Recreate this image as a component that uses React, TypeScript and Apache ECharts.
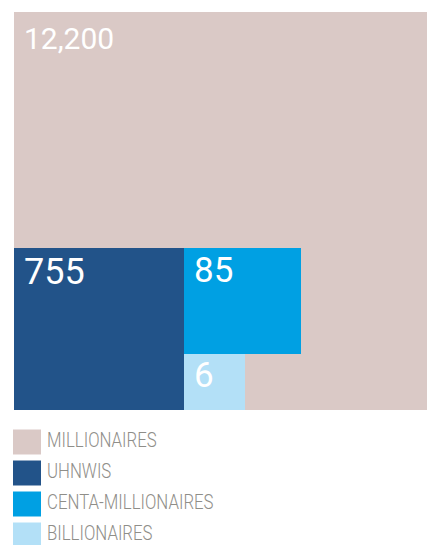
import React, { useEffect, useRef } from "react";
import * as echarts from "echarts";

// ---- data ----
const categories = ["MILLIONAIRES", "UHNWIS", "CENTA-MILLIONAIRES", "BILLIONAIRES"];
const values = [12200, 755, 85, 6];
// extents of each block in the chart's (hidden) value axes
const xStart = [0, 0, 170, 170];
const xEnd = [413, 170, 287, 231];
const yStart = [0, 0, 56, 0];
const yEnd = [398, 162, 162, 56];

// ---- styles ----
const colors = ["#dac9c6", "#225389", "#00a0e3", "#b3e0f7"];
const labelSizes = [30, 36, 35, 35];
const labelOffsetY = [26, 23.5, 22.5, 21.5];

export default function App() {
  const ref = useRef<HTMLDivElement>(null);
  useEffect(() => {
    if (!ref.current) return;
    const chart = echarts.init(ref.current, undefined, { renderer: "svg" });
    const series = categories.map((name, i) => ({
      type: "custom",
      name,
      itemStyle: { color: colors[i] },
      encode: { x: [0, 1], y: [2, 3] },
      data: [[xStart[i], xEnd[i], yStart[i], yEnd[i], values[i]]],
      renderItem: (params: any, api: any) => {
        const tl = api.coord([api.value(0), api.value(3)]);
        const br = api.coord([api.value(1), api.value(2)]);
        return {
          type: "group",
          children: [
            {
              type: "rect",
              shape: { x: tl[0], y: tl[1], width: br[0] - tl[0], height: br[1] - tl[1] },
              style: { fill: colors[i] },
            },
            {
              type: "text",
              style: {
                text: Number(api.value(4)).toLocaleString("en-US"),
                x: tl[0] + 10,
                y: tl[1] + labelOffsetY[i],
                fill: "#ffffff",
                fontSize: labelSizes[i],
                fontWeight: 400,
                fontFamily: "Roboto, 'Liberation Sans', sans-serif",
                align: "left",
                verticalAlign: "middle",
              },
            },
          ],
        };
      },
    }));
    const legendTop = 429.5;
    const legendStep = 31;
    const graphic: any[] = [];
    categories.forEach((name, i) => {
      graphic.push({
        type: "rect",
        left: 13,
        top: legendTop + i * legendStep,
        shape: { width: 28, height: 25 },
        style: { fill: colors[i] },
        silent: true,
      });
      graphic.push({
        type: "text",
        x: 47,
        y: legendTop + i * legendStep + 11.5,
        scaleX: 0.84,
        style: {
          text: name,
          x: 0,
          y: 0,
          fill: "#8f8e89",
          fontSize: 20,
          fontWeight: 300,
          fontFamily: "Roboto, 'Liberation Sans', sans-serif",
          align: "left",
          verticalAlign: "middle",
        },
        silent: true,
      });
    });
    chart.setOption({
      animation: false,
      grid: { left: 14, top: 12, right: 0, bottom: 135 },
      xAxis: { type: "value", min: 0, max: 413, show: false },
      yAxis: { type: "value", min: 0, max: 398, show: false },
      graphic,
      series,
    });
    return () => chart.dispose();
  }, []);
  return (
    <div
      ref={ref}
      style={{ position: "absolute", left: 0, top: 0, width: 427, height: 545, background: "#fff" }}
    />
  );
}
